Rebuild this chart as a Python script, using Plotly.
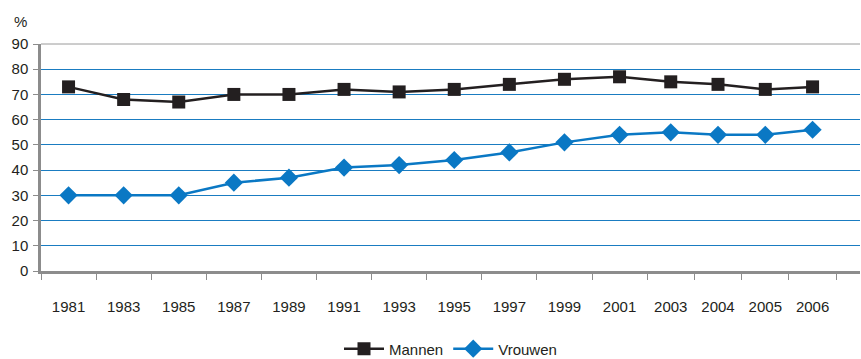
import plotly.graph_objects as go

# Survey years and participation percentages
years = ["1981", "1983", "1985", "1987", "1989", "1991", "1993", "1995",
         "1997", "1999", "2001", "2003", "2004", "2005", "2006"]
mannen = [73, 68, 67, 70, 70, 72, 71, 72, 74, 76, 77, 75, 74, 72, 73]
vrouwen = [30, 30, 30, 35, 37, 41, 42, 44, 47, 51, 54, 55, 54, 54, 56]
y_ticks = [0, 10, 20, 30, 40, 50, 60, 70, 80, 90]

# Slot widths along the x axis: the two-yearly intervals get a full slot,
# the yearly intervals from 2003 on a narrower one.
slot_w = [1.0] * 11 + [0.858] * 4
bounds = [0.0]
for w in slot_w:
    bounds.append(bounds[-1] + w)
centers = [(bounds[i] + bounds[i + 1]) / 2 for i in range(len(years))]

FONT = "Liberation Sans, Arial, sans-serif"
TXT = "#231f20"
GRID = "#1a7cc1"
AXIS = "#8c8c8c"

fig = go.Figure()
fig.add_trace(go.Scatter(
    x=centers, y=mannen, name="Mannen", mode="lines+markers",
    line=dict(color="#231f20", width=2.5),
    marker=dict(symbol="square", size=13, color="#231f20"),
))
fig.add_trace(go.Scatter(
    x=centers, y=vrouwen, name="Vrouwen", mode="lines+markers",
    line=dict(color="#0a78c4", width=2.5),
    marker=dict(symbol="diamond", size=14, color="#0a78c4"),
))

fig.update_layout(
    width=861, height=359,
    margin=dict(l=41, r=1, t=44, b=88, autoexpand=False),
    paper_bgcolor="white", plot_bgcolor="white",
    font=dict(family=FONT, size=15, color=TXT),
    showlegend=True,
    legend=dict(orientation="h", x=0.5, xanchor="center",
                yref="container", y=0.028, yanchor="middle",
                font=dict(size=15, color=TXT), itemwidth=40),
    xaxis=dict(
        range=[0, (860 - 41) / 55.1], showgrid=False, zeroline=False,
        showline=True, linecolor=AXIS, linewidth=2.5,
        tickmode="array", tickvals=centers, ticktext=years,
        ticks="outside", ticklen=0, ticklabelstandoff=20,
        minor=dict(tickmode="array", tickvals=bounds, ticks="outside",
                   ticklen=6, tickcolor=AXIS, tickwidth=1, showgrid=False),
    ),
    yaxis=dict(
        range=[0, 90], tickmode="array", tickvals=y_ticks,
        showgrid=True, gridcolor=GRID, gridwidth=1, zeroline=False,
        showline=True, linecolor=AXIS, linewidth=2.5,
        ticks="outside", ticklen=5, tickcolor=AXIS, ticklabelstandoff=2,
    ),
    annotations=[dict(text="%", xref="paper", yref="paper", x=0, y=1,
                      xshift=-29, yshift=23, showarrow=False,
                      xanchor="left", yanchor="middle",
                      font=dict(size=15, color=TXT))],
    shapes=[dict(type="line", xref="paper", yref="paper", x0=0, x1=1,
                 y0=1, y1=1, line=dict(color="#9a9a9a", width=1))],
)

fig.write_html("out.html")
